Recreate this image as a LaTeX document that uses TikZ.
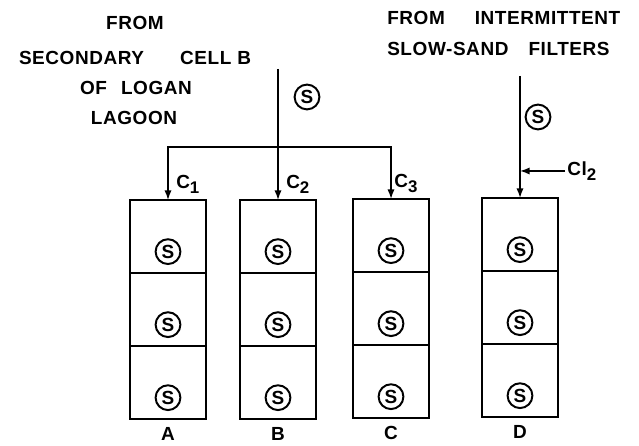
\documentclass[tikz,border=0pt]{standalone}
\usepackage{fontspec}
\newfontfamily\letterfont[LetterSpace=3]{Liberation Sans Bold}
\usetikzlibrary{arrows.meta,positioning}
\newcommand{\lowidx}[1]{\raisebox{-0.5ex}{\fontsize{12}{12}\selectfont #1}}

\begin{document}
\begin{tikzpicture}[
    x=0.025cm, y=-0.025cm,
    node distance=0pt,
    every node/.style={font=\letterfont\fontsize{13.5}{16}\selectfont},
    cell/.style={rectangle, draw, line width=1.2pt, outer sep=0pt,
                 minimum width=1.9cm, minimum height=1.825cm},
    sand/.style={circle, draw, line width=1.4pt, inner sep=0pt,
                 minimum size=0.62cm},
    colname/.style={inner sep=0pt},
    txt/.style={inner sep=0pt},
    feed/.style={-{Latex[length=2.4mm,width=1.8mm]}, line width=1.1pt}
]
\useasboundingbox (0,0) rectangle (639,446);

% sources
\node[txt] (fromL) at (135,23) {FROM};
\node[txt] (secL)  at (135,58) {SECONDARY\hspace{0.9cm}CELL B};
\node[txt] (ofL)   at (136,88) {OF\hspace{0.35cm}LOGAN};
\node[txt] (lagL)  at (134,118) {LAGOON};
\node[txt, anchor=west] (fromR) at (387,18) {FROM\hspace{0.75cm}INTERMITTENT};
\node[txt, anchor=west] (slowR) at (387,49) {SLOW-SAND\hspace{0.5cm}FILTERS};

% columns
\node[cell, anchor=north] (A1) at (168,200) {};
\node[cell, below=of A1] (A2) {};
\node[cell, below=of A2] (A3) {};
\node[cell, anchor=north] (B1) at (278,200) {};
\node[cell, below=of B1] (B2) {};
\node[cell, below=of B2] (B3) {};
\node[cell, anchor=north] (C1) at (391,199) {};
\node[cell, below=of C1] (C2) {};
\node[cell, below=of C2] (C3) {};
\node[cell, anchor=north] (D1) at (520,198) {};
\node[cell, below=of D1] (D2) {};
\node[cell, below=of D2] (D3) {};

% sand
\node[sand, above=0.2cm of A1.south] (sA1) {S};
\node[sand, above=0.2cm of A2.south] (sA2) {S};
\node[sand, above=0.2cm of A3.south] (sA3) {S};
\node[sand, above=0.2cm of B1.south] (sB1) {S};
\node[sand, above=0.2cm of B2.south] (sB2) {S};
\node[sand, above=0.2cm of B3.south] (sB3) {S};
\node[sand, above=0.2cm of C1.south] (sC1) {S};
\node[sand, above=0.2cm of C2.south] (sC2) {S};
\node[sand, above=0.2cm of C3.south] (sC3) {S};
\node[sand, above=0.2cm of D1.south] (sD1) {S};
\node[sand, above=0.2cm of D2.south] (sD2) {S};
\node[sand, above=0.2cm of D3.south] (sD3) {S};

\node[colname, below=0.2cm of A3] (nA) {A};
\node[colname, below=0.2cm of B3] (nB) {B};
\node[colname, below=0.2cm of C3] (nC) {C};
\node[colname, below=0.2cm of D3] (nD) {D};

% feed lines
\coordinate (inB) at (278,69);
\coordinate (split) at (278,147);
\coordinate (inD) at (520,76);
\coordinate (clin) at (565,171);

\draw[feed] (inB) -- (B1.north);
\draw[feed] (split) -| (A1.north);
\draw[feed] (split) -| (C1.north);
\draw[feed] (inD) -- (D1.north);
\draw[feed] (clin) -- (clin -| inD);

\node[sand] (sB) at (307,97) {S};
\node[sand] (sD) at (538,117) {S};

\node[txt, anchor=south west] (c1) at ([xshift=0.2cm,yshift=0.15cm]A1.north) {C\lowidx{1}};
\node[txt, anchor=south west] (c2) at ([xshift=0.2cm,yshift=0.15cm]B1.north) {C\lowidx{2}};
\node[txt, anchor=south west] (c3) at ([xshift=0.08cm,yshift=0.15cm]C1.north) {C\lowidx{3}};
\node[txt, anchor=west] (cl) at ([xshift=0.05cm]clin) {Cl\lowidx{2}};
\end{tikzpicture}
\end{document}
